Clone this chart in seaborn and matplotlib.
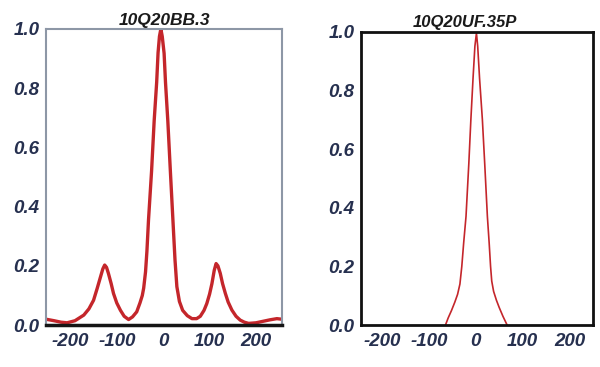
import matplotlib
matplotlib.use("Agg")
import matplotlib.pyplot as plt
import seaborn as sns
import pandas as pd

# ---- data ----
left_title = "10Q20BB.3"
left_x = [-252, -235, -220, -207, -190, -171, -160, -150, -142, -135, -130, -126,
          -122, -118, -112, -107, -100, -92, -84, -74.5, -66, -57, -50, -45, -42,
          -38, -35, -31.6, -25, -19.4, -14, -11, -8, -5, -2, 2, 5, 10, 15.5, 21,
          25.5, 29.5, 35, 42, 52, 62, 72, 80, 88, 94, 100, 105, 110, 114, 118,
          123, 128, 134, 140, 148, 157, 166, 175, 184, 200, 215, 230, 245, 256]
left_y = [0.020, 0.015, 0.010, 0.008, 0.015, 0.034, 0.055, 0.084, 0.125, 0.163,
          0.190, 0.203, 0.195, 0.175, 0.140, 0.107, 0.075, 0.050, 0.030, 0.019,
          0.028, 0.045, 0.075, 0.100, 0.125, 0.180, 0.250, 0.355, 0.520, 0.690,
          0.820, 0.920, 0.975, 1.000, 0.975, 0.918, 0.820, 0.690, 0.520, 0.355,
          0.220, 0.130, 0.080, 0.050, 0.032, 0.022, 0.022, 0.030, 0.050, 0.073,
          0.105, 0.140, 0.185, 0.208, 0.200, 0.175, 0.140, 0.107, 0.078, 0.051,
          0.030, 0.017, 0.010, 0.006, 0.008, 0.013, 0.018, 0.022, 0.020]

right_title = "10Q20UF.35P"
right_x = [-65, -59, -52, -45, -39, -34, -30, -26, -21, -15, -10.6, -6, -2, 1.3,
           4, 8, 14, 19, 24.7, 28.5, 31.5, 34, 38, 44, 50, 58, 67]
right_y = [0.0, 0.025, 0.050, 0.078, 0.105, 0.140, 0.200, 0.280, 0.370, 0.550,
           0.700, 0.840, 0.950, 0.995, 0.950, 0.840, 0.700, 0.550, 0.370, 0.280,
           0.200, 0.150, 0.115, 0.085, 0.060, 0.030, 0.0]

x_ticks = [-200, -100, 0, 100, 200]
y_ticks = [0.0, 0.2, 0.4, 0.6, 0.8, 1.0]

sns.set_style("white")
plt.rcParams['font.family'] = ['Liberation Sans', 'DejaVu Sans']

line_color = "#c4262b"
tick_color = "#26304f"

fig = plt.figure(figsize=(6.0, 3.67), dpi=100)
ax1 = fig.add_axes([0.077, 0.114, 0.393, 0.807])
ax2 = fig.add_axes([0.602, 0.114, 0.386, 0.800])

df1 = pd.DataFrame({"x": left_x, "y": left_y})
df2 = pd.DataFrame({"x": right_x, "y": right_y})

sns.lineplot(data=df1, x="x", y="y", ax=ax1, color=line_color, linewidth=2.4,
             sort=False, solid_joinstyle="round", solid_capstyle="round")
sns.lineplot(data=df2, x="x", y="y", ax=ax2, color=line_color, linewidth=1.2,
             sort=False, solid_joinstyle="round")

ax1.set_xlim(-252, 256)
ax2.set_xlim(-245, 250)
for ax in (ax1, ax2):
    ax.set_ylim(0, 1.0)
    ax.set_xticks(x_ticks)
    ax.set_yticks(y_ticks)
    ax.set_xticklabels([str(t) for t in x_ticks])
    ax.set_yticklabels([f"{t:.1f}" for t in y_ticks])
    ax.set_xlabel("")
    ax.set_ylabel("")
    for lab in ax.get_xticklabels() + ax.get_yticklabels():
        lab.set_fontsize(13.5)
        lab.set_fontweight("bold")
        lab.set_fontstyle("italic")
        lab.set_color(tick_color)
    ax.tick_params(axis="y", length=0, pad=5)

ax1.tick_params(axis="x", length=2, width=1, direction="in", color="#333333", pad=6)
ax2.tick_params(axis="x", length=0, pad=6)

for s in ["top", "left", "right"]:
    ax1.spines[s].set_color("#8d97a6")
    ax1.spines[s].set_linewidth(1.5)
ax1.spines["bottom"].set_color("#151515")
ax1.spines["bottom"].set_linewidth(2.5)
for s in ax2.spines.values():
    s.set_color("#111111")
    s.set_linewidth(2.0)

ax1.set_title(left_title, fontsize=12.5, fontstyle="italic", fontweight="bold",
              color="#1a1a1a", pad=3)
ax2.set_title(right_title, fontsize=12, fontstyle="italic", fontweight="bold",
              color="#1a1a1a", pad=3, x=0.45)

fig.savefig("out.png", dpi=100)
